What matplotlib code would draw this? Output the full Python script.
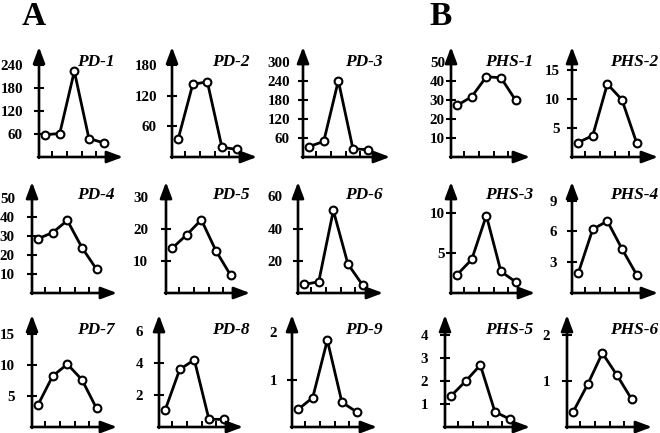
import matplotlib
matplotlib.use("Agg")
import matplotlib.pyplot as plt

plt.rcParams["font.family"] = ["Liberation Serif", "DejaVu Serif"]
plt.rcParams["font.weight"] = "bold"

# ---------------- data ----------------
x_positions = [0, 1, 2, 3, 4]

pd1 = [58, 61, 223, 48, 37]
pd2 = [35, 142, 147, 19, 15]
pd3 = [33, 49, 240, 26, 23]
pd4 = [28.6, 31.8, 38.2, 23.9, 12.5]
pd5 = [14, 18.2, 22.9, 13.2, 5.6]
pd6 = [5.3, 7, 51.3, 18, 5]
pd7 = [3.6, 8.2, 10.1, 7.6, 3.0]
pd8 = [1.06, 3.6, 4.2, 0.48, 0.48]
pd9 = [0.37, 0.62, 1.83, 0.52, 0.32]
phs1 = [27.2, 31.8, 42.3, 41.8, 30]
phs2 = [2.5, 3.7, 12.6, 9.9, 2.5]
phs3 = [2.3, 4.2, 9.7, 2.7, 1.4]
phs4 = [1.9, 6.2, 7.0, 4.3, 1.8]
phs5 = [1.36, 2.0, 2.7, 0.66, 0.35]
phs6 = [0.33, 0.93, 1.61, 1.13, 0.61]

ticks_pd1 = [60, 120, 180, 240]
ticks_pd2 = [60, 120, 180]
ticks_pd3 = [60, 120, 180, 240, 300]
ticks_pd4 = [10, 20, 30, 40, 50]
ticks_pd5 = [10, 20, 30]
ticks_pd6 = [20, 40, 60]
ticks_pd7 = [5, 10, 15]
ticks_pd8 = [2, 4, 6]
ticks_pd9 = [1, 2]
ticks_phs1 = [10, 20, 30, 40, 50]
ticks_phs2 = [5, 10, 15]
ticks_phs3 = [5, 10]
ticks_phs4 = [3, 6, 9]
ticks_phs5 = [1, 2, 3, 4]
ticks_phs6 = [1, 2]

titles = ["PD-1", "PD-2", "PD-3", "PHS-1", "PHS-2",
          "PD-4", "PD-5", "PD-6", "PHS-3", "PHS-4",
          "PD-7", "PD-8", "PD-9", "PHS-5", "PHS-6"]
series = [pd1, pd2, pd3, phs1, phs2,
          pd4, pd5, pd6, phs3, phs4,
          pd7, pd8, pd9, phs5, phs6]
yticks = [ticks_pd1, ticks_pd2, ticks_pd3, ticks_phs1, ticks_phs2,
          ticks_pd4, ticks_pd5, ticks_pd6, ticks_phs3, ticks_phs4,
          ticks_pd7, ticks_pd8, ticks_pd9, ticks_phs5, ticks_phs6]
# value at arrow tip of the y axis
ytop = [286, 215, 346, 58, 19,
        58.4, 34.7, 69, 13.9, 10.8,
        18, 7, 2.36, 4.88, 2.44]

# ---------------- layout (pixels) ----------------
W, H = 660, 433
ax_left = [39, 172, 303, 451, 572,
           32, 166, 298, 451, 572,
           32, 159, 292, 445, 567]
ax_width = [84, 85, 87, 79, 86,
            85, 84, 85, 84, 86,
            85, 84, 85, 85, 85]
row_bottom = [157, 293, 427]
row_top = [47, 182, 315]
title_right = [115, 250, 383, 533, 658]
title_y = [62, 195, 330]
label_gap = [16, 15, 13, 6, 12,
             17, 18, 15, 6, 15,
             17, 16, 15, 17, 17]

fig = plt.figure(figsize=(W / 100, H / 100), dpi=100)

unit_px = 14.6
x0 = -0.42
ytick_len_pt = 7.0

for i in range(15):
    r, c = divmod(i, 5)
    left = ax_left[i]
    w = ax_width[i]
    bot = row_bottom[r]
    top = row_top[r]
    ax = fig.add_axes([left / W, 1 - bot / H, w / W, (bot - top) / H])
    ax.set_xlim(x0, x0 + w / unit_px)
    ax.set_ylim(0, ytop[i])
    for s in ax.spines.values():
        s.set_visible(False)
    ax.patch.set_visible(False)

    ax.plot(x_positions, series[i], color="black", lw=2.0,
            marker="o", ms=5.6, mfc="white", mec="black", mew=1.5,
            clip_on=False, zorder=3)

    # axes arrows
    arrow_kw = dict(arrowstyle="-|>,head_length=0.8,head_width=0.3",
                    mutation_scale=12, lw=1.9, color="black",
                    shrinkA=0, shrinkB=0)
    ax.annotate("", xy=(0, 1), xytext=(0, -0.008), xycoords="axes fraction",
                arrowprops=arrow_kw, annotation_clip=False)
    ax.annotate("", xy=(1, 0), xytext=(-0.012, 0), xycoords="axes fraction",
                arrowprops=arrow_kw, annotation_clip=False)

    ax.set_xticks([0.5, 1.5, 2.5, 3.5])
    ax.set_xticklabels([])
    ax.tick_params(axis="x", direction="in", length=4.2, width=1.4,
                   colors="black")
    ax.set_yticks(yticks[i])
    pad = label_gap[i] * 0.72 - ytick_len_pt / 2
    ax.tick_params(axis="y", direction="inout", length=ytick_len_pt,
                   width=1.5, pad=pad, colors="black", labelsize=10.8)

    fig.text(title_right[c] / W, 1 - title_y[r] / H, titles[i],
             ha="right", va="center", fontsize=12.5, fontweight="bold",
             fontstyle="italic")

fig.text(22 / W, 1 - 25 / H, "A", ha="left", va="baseline",
         fontsize=24, fontweight="bold")
fig.text(429 / W, 1 - 25 / H, "B", ha="left", va="baseline",
         fontsize=24, fontweight="bold")

fig.savefig("out.png", dpi=100)
